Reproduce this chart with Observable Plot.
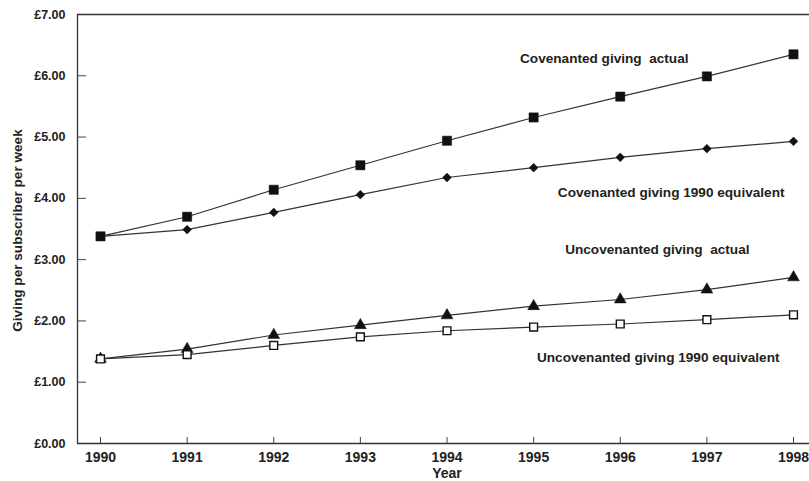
<!DOCTYPE html>
<html>
<head>
<meta charset="utf-8">
<script src="https://cdn.jsdelivr.net/npm/d3@7"></script>
<script src="https://cdn.jsdelivr.net/npm/@observablehq/plot@0.6"></script>
<style>
  html, body { margin: 0; padding: 0; background: #fff; }
  #chart svg { display: block; }
  #chart text { white-space: pre; }
</style>
</head>
<body>
<div id="chart"></div>
<script>
const years = [1990, 1991, 1992, 1993, 1994, 1995, 1996, 1997, 1998];
const covActual = [3.38, 3.70, 4.14, 4.54, 4.94, 5.32, 5.66, 5.99, 6.35];
const covEquiv = [3.38, 3.49, 3.77, 4.06, 4.34, 4.50, 4.67, 4.81, 4.93];
const uncovActual = [1.38, 1.54, 1.77, 1.93, 2.09, 2.24, 2.35, 2.51, 2.71];
const uncovEquiv = [1.38, 1.45, 1.60, 1.74, 1.84, 1.90, 1.95, 2.02, 2.10];
const seriesNames = [
  "Covenanted giving  actual",
  "Covenanted giving 1990 equivalent",
  "Uncovenanted giving  actual",
  "Uncovenanted giving 1990 equivalent"
];
const yTicks = [0, 1, 2, 3, 4, 5, 6, 7];

// square-proportioned diamond symbol
const squareDiamond = {
  draw(context, size) {
    const h = Math.sqrt(size / Math.PI);
    context.moveTo(0, -h);
    context.lineTo(h, 0);
    context.lineTo(0, h);
    context.lineTo(-h, 0);
    context.closePath();
  }
};

const seriesValues = [covActual, covEquiv, uncovActual, uncovEquiv];
const symbols = ["square", squareDiamond, "triangle", "square"];
const fills = ["#111", "#111", "#111", "#fff"];
const markerR = [5.2, 4.4, 4.4, 4.4];
const labelOffsets = [[-105, 4], [-9, 51], [-44, -28], [-14, 43]];

const W = 809, H = 481;
const mL = 77, mR = 0, mT = 14, mB = 38;
// 1990 at x=100, 1998 at x=793
const pxPerYear = (793 - 100) / 8;
const xDomain = [1990 - (100 - mL) / pxPerYear, 1998 + (W - mR - 793) / pxPerYear];

const rows = [];
seriesValues.forEach((vals, s) => {
  vals.forEach((v, i) => rows.push({series: s, name: seriesNames[s], year: years[i], value: v}));
});

const font = "Liberation Sans, Arial, Helvetica, sans-serif";
const ink = "#222";

const marks = [
  Plot.ruleX([xDomain[0]], {stroke: "#333", strokeWidth: 1.3}),
  Plot.ruleY([0], {stroke: "#333", strokeWidth: 1.3}),
  Plot.ruleY([7], {stroke: "#333", strokeWidth: 1.3}),
  Plot.tickY(yTicks.slice(1, 7), {y: d => d, stroke: "#444", strokeWidth: 1, insetRight: (W - mL - mR) - 9}),
  Plot.tickX(years, {x: d => d, stroke: "#444", strokeWidth: 1, insetTop: (H - mT - mB) - 6}),
  Plot.axisY({ticks: yTicks, tickSize: 0, tickPadding: 12, tickFormat: d => "£" + d.toFixed(2),
    fontSize: 12.5, fontWeight: "bold", fill: ink, label: null}),
  Plot.axisX({ticks: years, tickSize: 0, tickPadding: 9, tickFormat: d => String(d),
    fontSize: 14, fontWeight: "bold", fill: ink, label: null}),
];

seriesValues.forEach((vals, s) => {
  const data = rows.filter(r => r.series === s);
  marks.push(Plot.line(data, {x: "year", y: "value", stroke: "#333", strokeWidth: 1.2}));
  marks.push(Plot.dot(data, {x: "year", y: "value", symbol: symbols[s], r: markerR[s],
    fill: fills[s], stroke: "#111", strokeWidth: s === 3 ? 1.4 : 0.5}));
  marks.push(Plot.text([data[data.length - 1]], {x: "year", y: "value", text: "name",
    textAnchor: "end", dx: labelOffsets[s][0], dy: labelOffsets[s][1],
    fontSize: 13.6, fontWeight: "bold", fill: ink}));
});

const plot = Plot.plot({
  width: W, height: H,
  marginLeft: mL, marginRight: mR, marginTop: mT, marginBottom: mB,
  style: {fontFamily: font, background: "#fff", overflow: "visible"},
  x: {type: "linear", domain: xDomain},
  y: {domain: [0, 7]},
  marks: marks
});

const svg = d3.select(plot);
// Axis titles
svg.append("text")
  .attr("transform", `translate(22, ${(mT + H - mB) / 2 + 2}) rotate(-90)`)
  .attr("text-anchor", "middle")
  .attr("font-family", font).attr("font-size", 13.6).attr("font-weight", "bold")
  .attr("fill", ink)
  .text("Giving per subscriber per week");
svg.append("text")
  .attr("x", 447).attr("y", 478)
  .attr("text-anchor", "middle")
  .attr("font-family", font).attr("font-size", 14).attr("font-weight", "bold")
  .attr("fill", ink)
  .text("Year");

document.getElementById("chart").appendChild(plot);
</script>
</body>
</html>
